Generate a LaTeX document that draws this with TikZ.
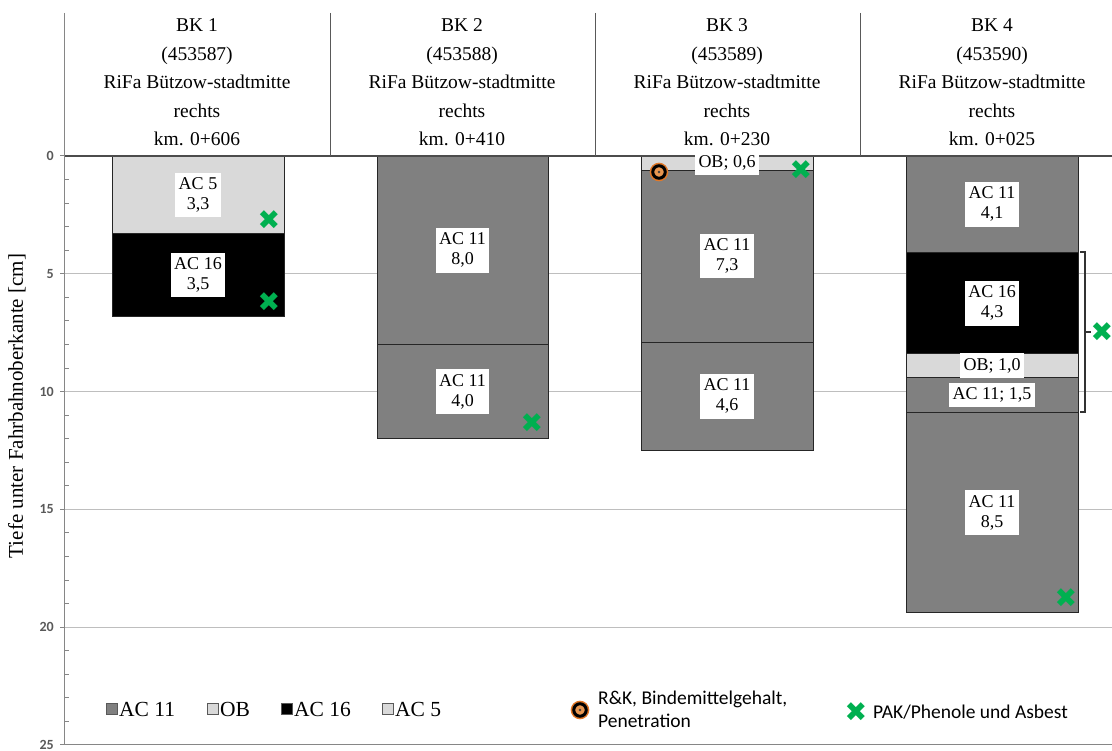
\documentclass[tikz,border=0pt]{standalone}
\usepackage{fontspec}
\setmainfont{Liberation Serif}
\newfontfamily\calfont{Carlito}
\newfontfamily\dvfont{DejaVu Sans}
\definecolor{acgray}{RGB}{128,128,128}
\definecolor{lgray}{RGB}{217,217,217}
\definecolor{pakgreen}{RGB}{0,176,80}
\definecolor{ringor}{RGB}{225,120,40}
\definecolor{ringin}{RGB}{232,150,80}
\definecolor{axgray}{RGB}{134,134,134}
\definecolor{gridgray}{RGB}{190,190,190}
\newcommand\dep[1]{156+23.55*(#1)}
\tikzset{
  lay/.style={draw=black!85, line width=0.9pt},
  lab/.style={fill=white, inner xsep=3.5pt, inner ysep=5pt, align=center,
              font=\fontsize{18}{20}\selectfont},
  hdr/.style={align=center, font=\fontsize{19.5}{28.5}\selectfont},
  pak/.style={text=pakgreen, inner sep=0pt, font=\dvfont\fontsize{27}{27}\selectfont},
  ring/.style={circle, draw=black, line width=3pt, fill=ringin, minimum size=12.5pt,
               inner sep=0pt,
               preaction={draw=ringor, line width=6pt},
               path picture={\fill[black!75] (path picture bounding box.center) circle (1.4pt);}},
  sq/.style={draw=black!65, line width=0.8pt, minimum size=11pt, inner sep=0pt},
  legt/.style={anchor=west, inner sep=0pt, font=\fontsize{21.5}{22}\selectfont},
  calt/.style={anchor=west, inner sep=0pt, align=left, font=\calfont\fontsize{19.5}{23}\selectfont},
  tick/.style={anchor=east, inner sep=0pt, text=black!65, font=\calfont\bfseries\fontsize{14}{14}\selectfont},
}
\begin{document}
\begin{tikzpicture}[x=1pt,y=-1pt]
\useasboundingbox (0,0) rectangle (1112,751);
% grid lines
\foreach \d in {5,10,15,20}{
  \draw[gridgray, line width=0.9pt] (60,{\dep{\d}}) -- (1112,{\dep{\d}});
}
\draw[axgray, line width=1pt] (60,{\dep{25}}) -- (1112,{\dep{25}});
% minor ticks
\foreach \d in {1,2,3,4,6,7,8,9,11,12,13,14,16,17,18,19,21,22,23,24}{
  \draw[axgray, line width=0.8pt] (64,{\dep{\d}}) -- (69,{\dep{\d}});
}
% tick labels
\foreach \d in {0,5,10,15,20,25}{
  \node[tick] (t\d) at (54,{\dep{\d}}) {\d};
}
% axis title
\node[rotate=90, inner sep=0pt, font=\fontsize{21}{21}\selectfont] (ytitle) at (17,406) {Tiefe unter Fahrbahnoberkante [cm]};

% BK1
\draw[lay, fill=lgray] (112,{\dep{0}}) rectangle (284,{\dep{3.3}});
\draw[lay, fill=black] (112,{\dep{3.3}}) rectangle (284,{\dep{6.8}});
% BK2
\draw[lay, fill=acgray] (377,{\dep{0}}) rectangle (548,{\dep{8}});
\draw[lay, fill=acgray] (377,{\dep{8}}) rectangle (548,{\dep{12}});
% BK3
\draw[lay, fill=lgray] (641,{\dep{0}}) rectangle (813,{\dep{0.6}});
\draw[lay, fill=acgray] (641,{\dep{0.6}}) rectangle (813,{\dep{7.9}});
\draw[lay, fill=acgray] (641,{\dep{7.9}}) rectangle (813,{\dep{12.5}});
% BK4
\draw[lay, fill=acgray] (906,{\dep{0}}) rectangle (1078,{\dep{4.1}});
\draw[lay, fill=black] (906,{\dep{4.1}}) rectangle (1078,{\dep{8.4}});
\draw[lay, fill=lgray] (906,{\dep{8.4}}) rectangle (1078,{\dep{9.4}});
\draw[lay, fill=acgray] (906,{\dep{9.4}}) rectangle (1078,{\dep{10.9}});
\draw[lay, fill=acgray] (906,{\dep{10.9}}) rectangle (1078,{\dep{19.4}});

% header frame
\draw[black!70, line width=1.1pt] (64,156) -- (1112,156);
\draw[axgray, line width=1pt] (64,13) -- (64,{\dep{25}});
\foreach \x in {330,595,860}{
  \draw[black!65, line width=1pt] (\x,13) -- (\x,156);
}
\draw[axgray, line width=1pt] (60,156) -- (64,156);
\foreach \d in {5,10,15,20}{ \draw[axgray, line width=0.9pt] (60,{\dep{\d}}) -- (64,{\dep{\d}}); }

% headers
\node[hdr] (h1) at (197,82.5) {BK 1\\(453587)\\RiFa Bützow-stadtmitte\\rechts\\km. 0+606};
\node[hdr] (h2) at (462,82.5) {BK 2\\(453588)\\RiFa Bützow-stadtmitte\\rechts\\km. 0+410};
\node[hdr] (h3) at (727,82.5) {BK 3\\(453589)\\RiFa Bützow-stadtmitte\\rechts\\km. 0+230};
\node[hdr] (h4) at (992,82.5) {BK 4\\(453590)\\RiFa Bützow-stadtmitte\\rechts\\km. 0+025};

% layer labels
\node[lab] (l11) at (198,{\dep{1.65}}) {AC 5\\3,3};
\node[lab] (l12) at (198,{\dep{5.05}}) {AC 16\\3,5};
\node[lab] (l21) at (462.5,{\dep{4}}) {AC 11\\8,0};
\node[lab] (l22) at (462.5,{\dep{10}}) {AC 11\\4,0};
\node[lab] (l31) at (727,{\dep{0.3}}) {OB; 0,6};
\node[lab] (l32) at (727,{\dep{4.25}}) {AC 11\\7,3};
\node[lab] (l33) at (727,{\dep{10.2}}) {AC 11\\4,6};
\node[lab] (l41) at (992,{\dep{2.05}}) {AC 11\\4,1};
\node[lab] (l42) at (992,{\dep{6.25}}) {AC 16\\4,3};
\node[lab] (l43) at (992,{\dep{8.9}}) {OB; 1,0};
\node[lab] (l44) at (992,{\dep{10.15}}) {AC 11; 1,5};
\node[lab] (l45) at (992,{\dep{15.15}}) {AC 11\\8,5};

% bracket
\coordinate (bt) at (1085,252);
\coordinate (bb) at (1085,412);
\coordinate (bm) at (1085,332);
\draw[black!80, line width=1.2pt] (1080,252) -- (bt) -- (bb) -- (1080,412);
\draw[black!80, line width=1.2pt] (bm) -- (1091,332);

% markers
\node[pak] (p1) at (269,220) {✖};
\node[pak] (p2) at (269,302) {✖};
\node[pak] (p3) at (532,423) {✖};
\node[pak] (p4) at (801,170) {✖};
\node[pak] (p5) at (1066,598) {✖};
\node[pak] (p6) at (1102,332) {✖};
\node[ring] (r1) at (659,172) {};

% legend
\node[sq, fill=acgray] (q1) at (112,709) {};
\node[legt] (lt1) at (119,709) {AC 11};
\node[sq, fill=lgray] (q2) at (213,709) {};
\node[legt] (lt2) at (220,709) {OB};
\node[sq, fill=black] (q3) at (287,709) {};
\node[legt] (lt3) at (294,709) {AC 16};
\node[sq, fill=lgray] (q4) at (388,709) {};
\node[legt] (lt4) at (395,709) {AC 5};
\node[ring] (r2) at (580,710) {};
\node[calt] (rt) at (598,709) {R\&K, Bindemittelgehalt,\\Penetration};
\node[pak] (p7) at (856,712) {✖};
\node[calt] (pt) at (873,712) {PAK/Phenole und Asbest};
\end{tikzpicture}
\end{document}
